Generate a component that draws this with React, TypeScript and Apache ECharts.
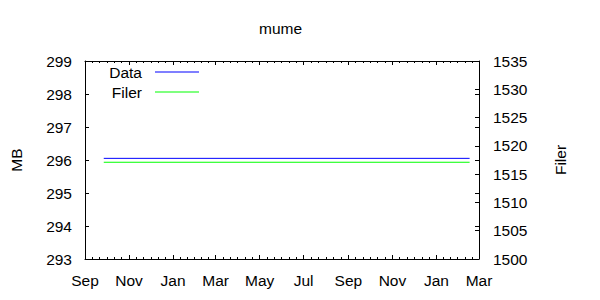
import React, { useEffect, useRef } from "react";
import * as echarts from "echarts";

const dates: string[] = ["2005-09-27", "2007-02-16"];
const dataMB: number[] = [296.05, 296.05];
const filerCount: number[] = [1517.1, 1517.1];
const monthTicks: string[] = [
  "2005-09-01", "2005-11-01", "2006-01-01", "2006-03-01", "2006-05-01",
  "2006-07-01", "2006-09-01", "2006-11-01", "2007-01-01", "2007-03-01",
];
const monthNames: string[] = ["Jan", "Feb", "Mar", "Apr", "May", "Jun", "Jul", "Aug", "Sep", "Oct", "Nov", "Dec"];

const toTs = (s: string) => {
  const [y, m, d] = s.split("-").map(Number);
  return Date.UTC(y, m - 1, d);
};

export default function App() {
  const ref = useRef<HTMLDivElement>(null);
  useEffect(() => {
    if (!ref.current) return;
    const chart = echarts.init(ref.current, undefined, { renderer: "svg" });
    const major = monthTicks.map(toTs);
    const minor: number[] = [];
    for (let i = 0; i < major.length - 1; i++) {
      for (let k = 1; k < 6; k++) minor.push(major[i] + ((major[i + 1] - major[i]) * k) / 6);
    }
    const xmin = major[0];
    const xmax = major[major.length - 1];
    const font = "Liberation Sans";
    const fs = 15.5;
    const black = "#000";
    const baseX = (pos: string, ticks: number[], len: number, showLine: boolean, showLabel: boolean) => ({
      type: "value",
      position: pos,
      min: xmin,
      max: xmax,
      splitLine: { show: false },
      axisLine: { show: showLine, lineStyle: { color: black, width: 1 } },
      axisTick: { show: true, inside: true, length: len, customValues: ticks, lineStyle: { color: black } },
      axisLabel: showLabel
        ? {
            show: true,
            customValues: major,
            margin: 13,
            color: black,
            fontSize: fs,
            fontFamily: font,
            formatter: (v: number) => monthNames[new Date(v).getUTCMonth()],
          }
        : { show: false },
    });
    const legendBase = {
      right: 401,
      padding: 0,
      itemWidth: 44,
      itemHeight: 1,
      icon: "rect",
      align: "right",
      selectedMode: false,
      textStyle: { fontSize: fs, color: black, fontFamily: font, padding: [0, 8, 0, 0] },
    };
    chart.setOption({
      animation: false,
      backgroundColor: "#fff",
      textStyle: { fontFamily: font },
      title: {
        text: "mume",
        left: 254,
        top: 15,
        textStyle: { fontSize: fs, fontWeight: "normal", color: black, fontFamily: font },
      },
      legend: [
        { ...legendBase, data: ["Data"], top: 64 },
        { ...legendBase, data: ["Filer"], top: 84 },
      ],
      grid: { left: 85, top: 61, width: 394, height: 198, containLabel: false },
      xAxis: [
        baseX("bottom", major, 4, true, true),
        baseX("bottom", minor, 2, false, false),
        baseX("top", major, 4, true, false),
        baseX("top", minor, 2, false, false),
      ],
      yAxis: [
        {
          type: "value",
          position: "left",
          min: 293,
          max: 299,
          interval: 1,
          name: "MB",
          nameLocation: "middle",
          nameGap: 61,
          nameRotate: 90,
          nameTextStyle: { fontSize: fs, color: black, fontFamily: font },
          splitLine: { show: false },
          axisLine: { show: true, lineStyle: { color: black, width: 1 } },
          axisTick: { show: true, inside: true, length: 4, lineStyle: { color: black } },
          axisLabel: { margin: 13, color: black, fontSize: fs, fontFamily: font },
        },
        {
          type: "value",
          position: "right",
          min: 1500,
          max: 1535,
          interval: 5,
          name: "Filer",
          nameLocation: "middle",
          nameGap: 73,
          nameRotate: 90,
          nameTextStyle: { fontSize: fs, color: black, fontFamily: font },
          splitLine: { show: false },
          axisLine: { show: true, lineStyle: { color: black, width: 1 } },
          axisTick: { show: true, inside: true, length: 4, lineStyle: { color: black } },
          axisLabel: { margin: 14, color: black, fontSize: fs, fontFamily: font, formatter: (v: number) => String(v) },
        },
        {
          type: "value",
          position: "right",
          min: 293,
          max: 299,
          interval: 1,
          splitLine: { show: false },
          axisLine: { show: false },
          axisTick: { show: true, inside: true, length: 4, lineStyle: { color: black } },
          axisLabel: { show: false },
        },
      ],
      series: [
        {
          name: "Data",
          type: "line",
          xAxisIndex: 0,
          yAxisIndex: 0,
          symbol: "none",
          color: "#0000ff",
          lineStyle: { color: "#0000ff", width: 1 },
          data: dates.map((d, i) => [toTs(d), dataMB[i]]),
        },
        {
          name: "Filer",
          type: "line",
          xAxisIndex: 0,
          yAxisIndex: 1,
          symbol: "none",
          color: "#00ff00",
          lineStyle: { color: "#00ff00", width: 1 },
          data: dates.map((d, i) => [toTs(d), filerCount[i]]),
        },
      ],
    });
    return () => chart.dispose();
  }, []);
  return <div ref={ref} style={{ position: "absolute", left: 0, top: 0, width: 600, height: 300 }} />;
}
